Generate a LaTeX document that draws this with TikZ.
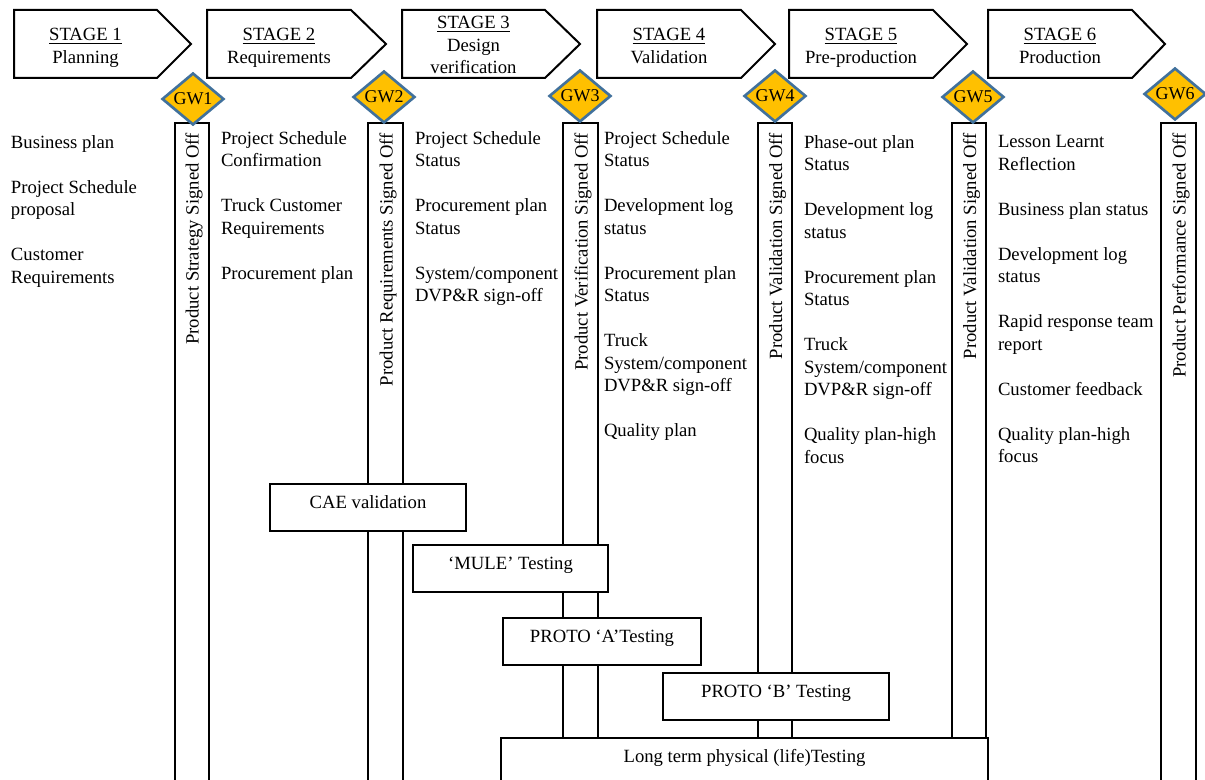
\documentclass[tikz,border=0pt]{standalone}
\usepackage{fontspec}
\setmainfont{Liberation Serif}
\usetikzlibrary{shapes.geometric}
\definecolor{gwfill}{RGB}{255,192,0}
\definecolor{gwline}{RGB}{65,113,156}
\begin{document}
\begin{tikzpicture}[x=0.75pt,y=-0.75pt,line width=1.5pt,
  txt/.style={font=\fontsize{14}{16.875}\selectfont,inner sep=0pt},
  col/.style={txt,align=left,anchor=north west},
  stagetxt/.style={txt,align=center,anchor=north},
  stagearrow/.style={draw,line join=miter,fill=white},
  bar/.style={draw},
  gw/.style={diamond,draw=gwline,line width=2pt,fill=gwfill,minimum width=46.5pt,minimum height=39pt,inner sep=0pt,font=\fontsize{13.5}{16}\selectfont},
  bartxt/.style={txt,rotate=90,anchor=east},
  testbox/.style={draw,fill=white,txt,text height=18pt,text depth=17.25pt,anchor=north}]
\useasboundingbox (0,0) rectangle (1205,780);
% vertical gateway bars
\draw[bar] (175,784) -- (175,123) -- (209,123) -- (209,784);
\draw[bar] (368,784) -- (368,123) -- (403,123) -- (403,784);
\draw[bar] (563,784) -- (563,123) -- (598,123) -- (598,784);
\draw[bar] (758,784) -- (758,123) -- (792,123) -- (792,784);
\draw[bar] (952,784) -- (952,123) -- (986,123) -- (986,784);
\draw[bar] (1161,784) -- (1161,123) -- (1196,123) -- (1196,784);
% stage arrows
\draw[stagearrow] (14,10) -- (157,10) -- (191,44) -- (157,78) -- (14,78) -- cycle;
\draw[stagearrow] (207,10) -- (351,10) -- (386,44) -- (351,78) -- (207,78) -- cycle;
\draw[stagearrow] (402,10) -- (545,10) -- (580,44) -- (545,78) -- (402,78) -- cycle;
\draw[stagearrow] (597,10) -- (741,10) -- (775,44) -- (741,78) -- (597,78) -- cycle;
\draw[stagearrow] (789,10) -- (933,10) -- (967,44) -- (933,78) -- (789,78) -- cycle;
\draw[stagearrow] (988,10) -- (1132,10) -- (1165,44) -- (1132,78) -- (988,78) -- cycle;
\node[stagetxt] (s1) at (85.5,27.6) {\underline{STAGE 1}\\Planning};
\node[stagetxt] (s2) at (279,27.6) {\underline{STAGE 2}\\Requirements};
\node[stagetxt] (s3) at (473.5,15.6) {\underline{STAGE 3}\\Design\\verification};
\node[stagetxt] (s4) at (669,27.6) {\underline{STAGE 4}\\Validation};
\node[stagetxt] (s5) at (861,27.6) {\underline{STAGE 5}\\Pre-production};
\node[stagetxt] (s6) at (1060,27.6) {\underline{STAGE 6}\\Production};
% gateways
\node[gw] (gw1) at (193,99) {GW1};
\node[gw] (gw2) at (384,97) {GW2};
\node[gw] (gw3) at (580,96) {GW3};
\node[gw] (gw4) at (775,96) {GW4};
\node[gw] (gw5) at (973,97) {GW5};
\node[gw] (gw6) at (1175,94) {GW6};
% bar labels
\node[bartxt] (b1) at (194,132) {Product Strategy Signed Off};
\node[bartxt] (b2) at (388,132) {Product Requirements Signed Off};
\node[bartxt] (b3) at (583,132) {Product Verification Signed Off};
\node[bartxt] (b4) at (777.5,132) {Product Validation Signed Off};
\node[bartxt] (b5) at (971.5,132) {Product Validation Signed Off};
\node[bartxt] (b6) at (1181,132) {Product Performance Signed Off};
% column texts
\node[col] (c1) at (10,134.2) {Business plan\\[16.875pt]Project Schedule\\proposal\\[16.875pt]Customer\\Requirements};
\node[col] (c2) at (220,130.5) {Project Schedule\\Confirmation\\[16.875pt]Truck Customer\\Requirements\\[16.875pt]Procurement plan};
\node[col] (c3) at (414,130.5) {Project Schedule\\Status\\[16.875pt]Procurement plan\\Status\\[16.875pt]System/component\\DVP\&R sign-off};
\node[col] (c4) at (603,130.5) {Project Schedule\\Status\\[16.875pt]Development log\\status\\[16.875pt]Procurement plan\\Status\\[16.875pt]Truck\\System/component\\DVP\&R sign-off\\[16.875pt]Quality plan};
\node[col] (c5) at (803,134.3) {Phase-out plan\\Status\\[16.875pt]Development log\\status\\[16.875pt]Procurement plan\\Status\\[16.875pt]Truck\\System/component\\DVP\&R sign-off\\[16.875pt]Quality plan-high\\focus};
\node[col] (c6) at (997,134.6) {Lesson Learnt\\Reflection\\[16.875pt]Business plan status\\[16.875pt]Development log\\status\\[16.875pt]Rapid response team\\report\\[16.875pt]Customer feedback\\[16.875pt]Quality plan-high\\focus};
% testing boxes
\node[testbox,minimum width=147pt] (cae) at (368,483) {CAE validation};
\node[testbox,minimum width=146.25pt] (mule) at (510.5,544) {‘MULE’ Testing};
\node[testbox,minimum width=148.5pt] (pa) at (602,617) {PROTO ‘A’Testing};
\node[testbox,minimum width=169.5pt] (pb) at (776,672) {PROTO ‘B’ Testing};
\node[testbox,minimum width=365.25pt,text depth=45pt] (lt) at (744.5,737) {Long term physical (life)Testing};
\end{tikzpicture}
\end{document}
